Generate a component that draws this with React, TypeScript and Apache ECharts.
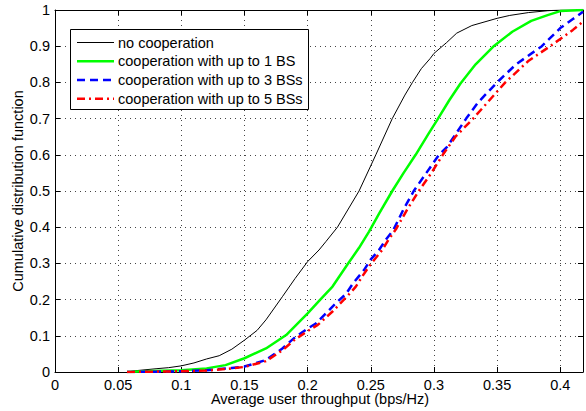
import React, { useEffect, useRef } from "react";
import * as echarts from "echarts";

const FONT = "Liberation Sans, Arial, Helvetica, sans-serif";
const FS = 14.5;

const seriesNames = [
  "no cooperation",
  "cooperation with up to 1 BS",
  "cooperation with up to 3 BSs",
  "cooperation with up to 5 BSs",
];

const noCoopX = [0.057, 0.065, 0.08, 0.09, 0.1, 0.11, 0.12, 0.13, 0.14, 0.15, 0.16, 0.167, 0.18, 0.19, 0.2, 0.209, 0.2144, 0.2236, 0.2407, 0.254, 0.267, 0.277, 0.283, 0.29, 0.297, 0.3, 0.31, 0.318, 0.33, 0.35, 0.36, 0.375, 0.39, 0.4, 0.418];
const noCoopF = [0, 0.004, 0.009, 0.012, 0.017, 0.025, 0.036, 0.045, 0.063, 0.088, 0.115, 0.144, 0.208, 0.258, 0.305, 0.337, 0.36, 0.4, 0.5, 0.6, 0.7, 0.765, 0.8, 0.838, 0.866, 0.88, 0.91, 0.936, 0.957, 0.977, 0.985, 0.993, 0.998, 1.0, 1.0];

const bs1X = [0.057, 0.07, 0.1, 0.12, 0.135, 0.15, 0.167, 0.183, 0.2, 0.21, 0.2197, 0.2315, 0.2407, 0.2486, 0.257, 0.267, 0.276, 0.2855, 0.296, 0.3025, 0.312, 0.321, 0.333, 0.347, 0.362, 0.377, 0.39, 0.4, 0.418];
const bs1F = [0, 0.002, 0.005, 0.01, 0.019, 0.038, 0.065, 0.102, 0.162, 0.2, 0.236, 0.297, 0.343, 0.388, 0.44, 0.5, 0.55, 0.6, 0.66, 0.696, 0.75, 0.797, 0.85, 0.899, 0.94, 0.97, 0.986, 0.997, 1.0];

const bs3X = [0.057, 0.08, 0.1, 0.12, 0.13, 0.14, 0.15, 0.167, 0.18, 0.1907, 0.2, 0.2065, 0.217, 0.2223, 0.2302, 0.236, 0.2447, 0.25, 0.2565, 0.2618, 0.2678, 0.276, 0.284, 0.294, 0.304, 0.3104, 0.3255, 0.335, 0.35, 0.365, 0.3854, 0.4, 0.41, 0.418];
const bs3F = [0, 0.001, 0.002, 0.005, 0.008, 0.011, 0.015, 0.033, 0.065, 0.098, 0.12, 0.134, 0.171, 0.19, 0.215, 0.245, 0.282, 0.311, 0.337, 0.365, 0.392, 0.45, 0.5, 0.55, 0.6, 0.622, 0.7, 0.745, 0.8, 0.85, 0.9, 0.95, 0.975, 0.995];

const bs5X = [0.057, 0.08, 0.1, 0.12, 0.13, 0.14, 0.15, 0.167, 0.18, 0.19, 0.2, 0.208, 0.2197, 0.2302, 0.238, 0.2434, 0.25, 0.259, 0.264, 0.27, 0.279, 0.288, 0.298, 0.307, 0.317, 0.331, 0.3565, 0.375, 0.392, 0.4, 0.41, 0.418];
const bs5F = [0, 0.001, 0.002, 0.004, 0.007, 0.01, 0.014, 0.03, 0.06, 0.09, 0.113, 0.13, 0.167, 0.205, 0.235, 0.265, 0.298, 0.337, 0.365, 0.395, 0.45, 0.5, 0.55, 0.6, 0.65, 0.7, 0.8, 0.86, 0.9, 0.92, 0.945, 0.968];

const xTitle = "Average user throughput (bps/Hz)";
const yTitle = "Cumulative distribution function";

const colors = ["#000000", "#00ff00", "#0000ff", "#ff0000"];
const widths = [1, 2.5, 2.5, 2.5];
const dashes: any[] = ["solid", "solid", [8, 5], [8, 4, 2, 4]];

const pairs = (xs: number[], ys: number[]) => xs.map((x, i) => [x, ys[i]]);

const fmt = (v: number) => {
  const k = v / 0.05;
  if (Math.abs(k - Math.round(k)) > 1e-6) return "";
  return String(parseFloat(v.toFixed(2)));
};
const fmtY = (v: number) => String(parseFloat(v.toFixed(1)));

export default function App() {
  const ref = useRef<HTMLDivElement>(null);
  useEffect(() => {
    if (!ref.current) return;
    const chart = echarts.init(ref.current, undefined, { renderer: "svg" });
    const data = [
      pairs(noCoopX, noCoopF),
      pairs(bs1X, bs1F),
      pairs(bs3X, bs3F),
      pairs(bs5X, bs5F),
    ];
    const split = { show: true, lineStyle: { color: "#444", width: 1, type: [1, 4] as any } };
    const baseX = {
      type: "value" as const,
      min: 0,
      max: 0.418,
      interval: 0.05,
      axisLine: { show: true, onZero: false, lineStyle: { color: "#000", width: 1 } },
      axisTick: { show: true, inside: true, length: 5, lineStyle: { color: "#000" } },
    };
    const baseY = {
      type: "value" as const,
      min: 0,
      max: 1,
      interval: 0.1,
      axisLine: { show: true, onZero: false, lineStyle: { color: "#000", width: 1 } },
      axisTick: { show: true, inside: true, length: 5, lineStyle: { color: "#000" } },
    };
    const legendRows = [42.5, 61.2, 80, 98.8];
    const textStyle = (text: string, align: string) => ({
      text,
      fill: "#000",
      fontSize: FS,
      fontFamily: FONT,
      align,
      verticalAlign: "middle",
      textAlign: align,
      textVerticalAlign: "middle",
    });
    const graphic: any[] = [
      {
        type: "rect",
        z: 100,
        shape: { x: 70.5, y: 29.5, width: 238, height: 80 },
        style: { fill: "#fff", stroke: "#000", lineWidth: 1 },
      },
    ];
    seriesNames.forEach((n, i) => {
      graphic.push({
        type: "line",
        z: 101,
        shape: { x1: 77, y1: legendRows[i], x2: 114, y2: legendRows[i] },
        style: {
          stroke: colors[i],
          lineWidth: widths[i],
          lineDash: Array.isArray(dashes[i]) ? dashes[i] : null,
        },
      });
      graphic.push({ type: "text", z: 101, x: 118, y: legendRows[i], style: textStyle(n, "left") });
    });
    graphic.push({ type: "text", x: 320, y: 399, style: textStyle(xTitle, "center") });
    graphic.push({ type: "text", x: 18, y: 191, rotation: Math.PI / 2, style: textStyle(yTitle, "center") });

    chart.setOption({
      animation: false,
      backgroundColor: "#ffffff",
      textStyle: { fontFamily: FONT },
      grid: { left: 55, top: 10, right: 1, bottom: 39, containLabel: false },
      xAxis: [
        {
          ...baseX,
          position: "bottom",
          splitLine: split,
          axisLabel: { show: true, color: "#000", fontSize: FS, fontFamily: FONT, margin: 5, formatter: fmt },
        },
        { ...baseX, position: "top", splitLine: { show: false }, axisLabel: { show: false } },
      ],
      yAxis: [
        {
          ...baseY,
          position: "left",
          splitLine: split,
          axisLabel: { show: true, color: "#000", fontSize: FS, fontFamily: FONT, margin: 5, formatter: fmtY },
        },
        { ...baseY, position: "right", splitLine: { show: false }, axisLabel: { show: false } },
      ],
      series: data.map((d, i) => ({
        name: seriesNames[i],
        type: "line",
        data: d,
        showSymbol: false,
        symbol: "none",
        clip: true,
        z: 2 + i,
        lineStyle: { color: colors[i], width: widths[i], type: dashes[i] },
      })),
      graphic,
    });
    return () => chart.dispose();
  }, []);
  return (
    <div
      ref={ref}
      style={{ position: "fixed", left: 0, top: 0, width: 586, height: 411, background: "#fff" }}
    />
  );
}
